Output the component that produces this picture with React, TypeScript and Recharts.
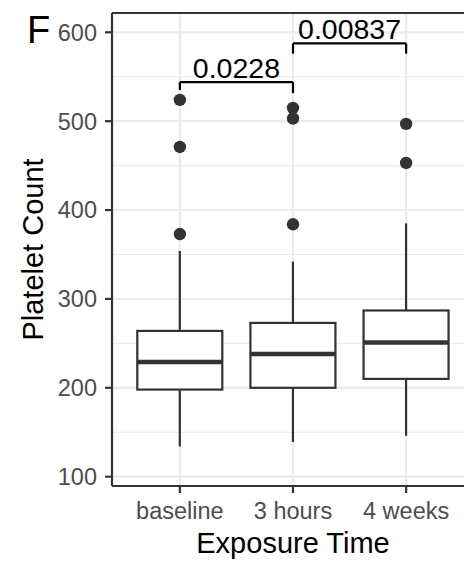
import React from 'react';
import { ComposedChart, Bar, Scatter, XAxis, YAxis, CartesianGrid, ReferenceLine } from 'recharts';

// box statistics per exposure time
const categories = ['baseline', '3 hours', '4 weeks'];
const whiskerLow = [134, 139, 146];
const q1 = [198, 200, 210];
const medians = [229, 238, 251];
const q3 = [264, 273, 287];
const whiskerHigh = [354, 342, 385];

// outliers
const outlierCats = ['baseline', 'baseline', 'baseline', '3 hours', '3 hours', '3 hours', '4 weeks', '4 weeks'];
const outlierValues = [373, 471, 524, 384, 503, 515, 453, 497];

// axis
const yTicks = [100, 200, 300, 400, 500, 600];
const yMinorTicks = [150, 250, 350, 450, 550];
const Y_MIN = 89.5;
const Y_MAX = 621.7;

// significance brackets
const bracketFrom = ['baseline', '3 hours'];
const bracketTo = ['3 hours', '4 weeks'];
const bracketY = [544, 587.5];
const bracketTipFrom = [535, 576];
const bracketTipTo = [531.5, 576];
const pValues = ['0.0228', '0.00837'];

const boxData = categories.map((cat, i) => ({
  cat,
  range: [whiskerLow[i], whiskerHigh[i]],
  q1: q1[i],
  median: medians[i],
  q3: q3[i],
}));

const outlierData = outlierCats.map((cat, i) => ({ cat, value: outlierValues[i] }));

const INK = '#333333';
const FONT = '"Liberation Sans", Arial, Helvetica, sans-serif';

const BoxShape = (props: any) => {
  const { x, y, width, height, payload } = props;
  const [lo, hi] = payload.range;
  const top = Math.min(y, y + height);
  const h = Math.abs(height);
  // map a value into the bar's own pixel span (whisker low..high)
  const py = (v: number) => top + ((hi - v) / (hi - lo)) * h;
  const cx = x + width / 2;
  return (
    <g>
      <line x1={cx} x2={cx} y1={py(hi)} y2={py(payload.q3)} stroke={INK} strokeWidth={2.2} />
      <line x1={cx} x2={cx} y1={py(payload.q1)} y2={py(lo)} stroke={INK} strokeWidth={2.2} />
      <rect
        x={x}
        y={py(payload.q3)}
        width={width}
        height={py(payload.q1) - py(payload.q3)}
        fill="#ffffff"
        stroke={INK}
        strokeWidth={2.2}
      />
      <line x1={x} x2={x + width} y1={py(payload.median)} y2={py(payload.median)} stroke={INK} strokeWidth={4.4} />
    </g>
  );
};

const OutlierDot = (props: any) => <circle cx={props.cx} cy={props.cy} r={6.2} fill={INK} />;

export default function App() {
  const brackets = bracketFrom.flatMap((from, i) => [
    <ReferenceLine
      key={`h${i}`}
      segment={[{ x: from, y: bracketY[i] }, { x: bracketTo[i], y: bracketY[i] }]}
      stroke="#000"
      strokeWidth={2.2}
      label={{ value: pValues[i], position: 'top', offset: 4, fill: '#000', fontSize: 28.5 }}
    />,
    <ReferenceLine
      key={`l${i}`}
      segment={[{ x: from, y: bracketY[i] }, { x: from, y: bracketTipFrom[i] }]}
      stroke="#000"
      strokeWidth={2.2}
    />,
    <ReferenceLine
      key={`r${i}`}
      segment={[{ x: bracketTo[i], y: bracketY[i] }, { x: bracketTo[i], y: bracketTipTo[i] }]}
      stroke="#000"
      strokeWidth={2.2}
    />,
  ]);

  return (
    <div
      style={{
        position: 'absolute',
        left: 0,
        top: 0,
        width: 464,
        height: 562,
        overflow: 'hidden',
        background: '#fff',
        fontFamily: FONT,
      }}
    >
      <ComposedChart width={480} height={562} data={boxData} margin={{ top: 13, right: 6, bottom: 0, left: 0 }}>
        <CartesianGrid horizontalValues={yMinorTicks} vertical={false} stroke="#EBEBEB" strokeWidth={1.1} />
        <CartesianGrid stroke="#EBEBEB" strokeWidth={2.2} />
        <XAxis
          dataKey="cat"
          type="category"
          allowDuplicatedCategory={false}
          interval={0}
          padding={{ left: 11.3, right: 11.3 }}
          height={76}
          tickSize={7}
          tickMargin={9}
          tickLine={{ stroke: INK, strokeWidth: 2.2 }}
          axisLine={{ stroke: INK, strokeWidth: 2.2 }}
          tick={{ fill: '#4D4D4D', fontSize: 23.5 }}
          label={{ value: 'Exposure Time', position: 'insideBottom', offset: 9, fill: '#000', fontSize: 29 }}
        />
        <YAxis
          type="number"
          domain={[Y_MIN, Y_MAX]}
          allowDataOverflow
          ticks={yTicks}
          width={112}
          tickSize={7}
          tickMargin={8}
          tickLine={{ stroke: INK, strokeWidth: 2.2 }}
          axisLine={{ stroke: INK, strokeWidth: 2.2 }}
          tick={{ fill: '#4D4D4D', fontSize: 23.5 }}
          label={{
            value: 'Platelet Count',
            angle: -90,
            position: 'insideLeft',
            offset: 33,
            fill: '#000',
            fontSize: 29,
            style: { textAnchor: 'middle' },
          }}
        />
        <ReferenceLine y={Y_MAX} stroke={INK} strokeWidth={2.2} />
        <Bar dataKey="range" barSize={85} shape={<BoxShape />} isAnimationActive={false} />
        <Scatter data={outlierData} dataKey="value" shape={<OutlierDot />} isAnimationActive={false} />
        {brackets}
      </ComposedChart>
      <svg style={{ position: 'absolute', left: 0, top: 0 }} width={80} height={60}>
        <text x={27} y={42.7} fontSize={38} fill="#000" fontFamily={FONT}>
          F
        </text>
      </svg>
    </div>
  );
}
